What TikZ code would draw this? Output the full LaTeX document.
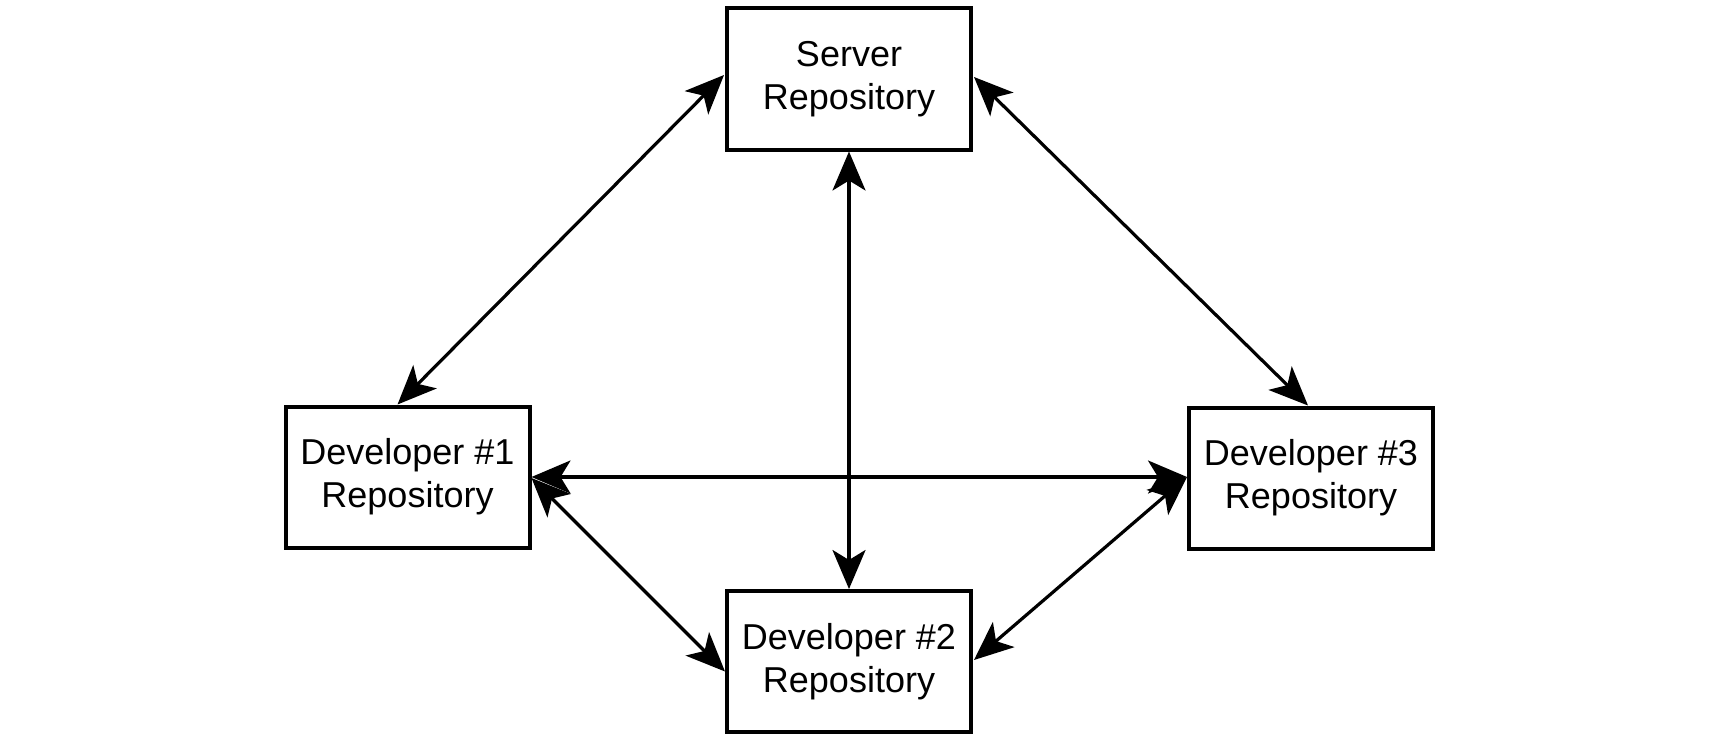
\documentclass[tikz,border=0pt]{standalone}
\usepackage{fontspec}
\setmainfont{Liberation Sans}
\usetikzlibrary{arrows.meta,calc}
\begin{document}
\begin{tikzpicture}[x=1pt,y=-1pt,
  repo/.style={draw=black, line width=4pt, minimum width=244pt, minimum height=141pt,
    inner sep=0pt, align=center, font=\fontsize{36}{43}\selectfont, fill=white},
  link/.style={line width=3.2pt, {Stealth[length=39pt,width=33pt,inset=10pt]}-{Stealth[length=39pt,width=33pt,inset=10pt]}}
]
\useasboundingbox[fill=white] (0,0) rectangle (1718,741);
\node[repo] (srv) at (849,79) {Server\\Repository};
\node[repo] (d1) at (407.5,477) {Developer \#1\\Repository};
\node[repo] (d3) at (1311,478) {Developer \#3\\Repository};
\node[repo] (d2) at (849,661.5) {Developer \#2\\Repository};
\draw[link] ($(srv.west)+(-1,-4)$) -- ($(d1.north)+(-10,0)$);
\draw[link] ($(srv.east)+(1,-2)$) -- ($(d3.north)+(-3,0)$);
\draw[link] (srv.south) -- (d2.north);
\draw[link] (d1.east) -- ($(d3.west)+(0,-1)$);
\draw[link] ($(d1.east)+(0,1)$) -- ($(d2.west)+(0,10)$);
\draw[link] ($(d3.west)+(0,-1)$) -- ($(d2.east)+(1,-1.5)$);
\end{tikzpicture}
\end{document}
